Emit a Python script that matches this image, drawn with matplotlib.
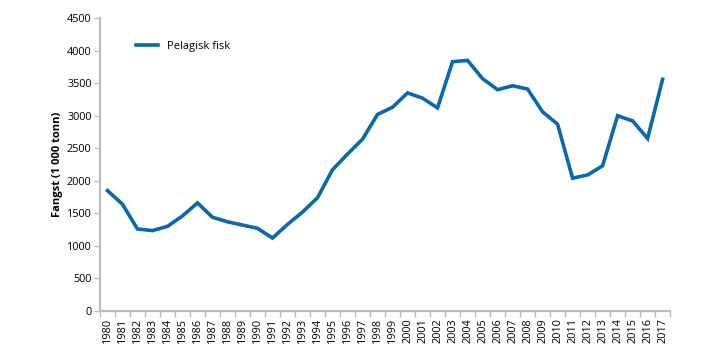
import matplotlib.pyplot as plt
import numpy as np

years = list(range(1980, 2018))
fangst = [1850, 1640, 1260, 1235, 1300, 1460, 1660, 1440, 1370, 1320,
          1270, 1120, 1330, 1520, 1740, 2170, 2410, 2640, 3020, 3130,
          3350, 3270, 3120, 3830, 3850, 3570, 3400, 3460, 3410, 3060,
          2870, 2040, 2090, 2230, 3000, 2920, 2650, 3560]

plt.rcParams['font.family'] = ['Open Sans', 'DejaVu Sans']
blue = '#0a69ab'
grey = '#bdbdbd'

fig = plt.figure(figsize=(7.19, 3.62), dpi=100)
ax = fig.add_axes([0.139, 0.141, 0.793, 0.809])

x = np.arange(len(years))
ax.plot(x, fangst, color=blue, linewidth=2.6, label='Pelagisk fisk',
        solid_joinstyle='miter')

ax.set_xlim(-0.5, len(years) - 0.5)
ax.set_ylim(0, 4500)
ax.set_yticks(range(0, 4501, 500))
ax.set_xticks(x)
ax.set_xticklabels([str(y) for y in years], rotation=90, fontsize=7.8)
ax.set_xticks(np.arange(-0.5, len(years), 1), minor=True)
ax.tick_params(axis='x', which='major', length=0, pad=5)
ax.tick_params(axis='x', which='minor', length=4, color=grey, width=1)
ax.tick_params(axis='y', labelsize=7.8, length=4, color=grey, width=1, pad=2)

for s in ['top', 'right']:
    ax.spines[s].set_visible(False)
for s in ['left', 'bottom']:
    ax.spines[s].set_color(grey)
    ax.spines[s].set_linewidth(1.6)

ax.set_ylabel('Fangst (1 000 tonn)', fontsize=8, fontweight='bold', labelpad=3)

ax.legend(loc='upper left', bbox_to_anchor=(0.045, 0.955), frameon=False,
          fontsize=8, handlelength=2.0, handletextpad=0.8)

fig.savefig('out.png', dpi=100)
